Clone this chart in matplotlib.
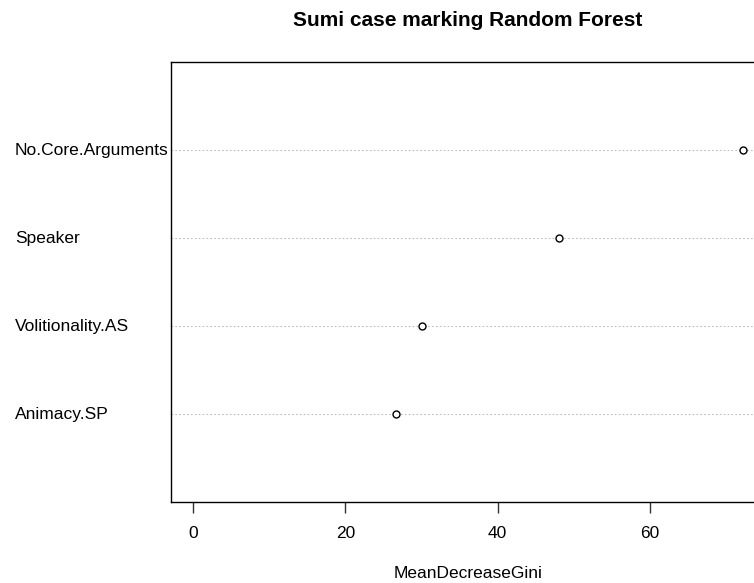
import matplotlib
matplotlib.use("Agg")
import matplotlib.pyplot as plt

plt.rcParams['font.family'] = ['Liberation Sans', 'DejaVu Sans']

# Variable importance (mean decrease in Gini), bottom to top
variables = ["Animacy.SP", "Volitionality.AS", "Speaker", "No.Core.Arguments"]
gini = [26.6, 30.0, 48.1, 72.2]
ticks = [0, 20, 40, 60]

fig = plt.figure(figsize=(7.54, 5.83), dpi=100)
ax = fig.add_axes([171 / 754, 81 / 583, 594 / 754, 440 / 583])

ypos = list(range(1, len(variables) + 1))
for y in ypos:
    ax.axhline(y, color="#bebebe", linestyle=(0, (1.5, 2)), linewidth=0.8, zorder=1)
ax.plot(gini, ypos, linestyle="none", marker="o", markersize=5,
        markerfacecolor="white", markeredgecolor="black", markeredgewidth=1.0, zorder=3)

pad = 0.04 * (max(gini) - 0)
ax.set_xlim(0 - pad, max(gini) + pad)
ax.set_ylim(0, len(variables) + 1)

ax.set_yticks([])
ax.set_xticks(ticks)
ax.set_xticklabels([str(t) for t in ticks], fontsize=12.5)
ax.tick_params(axis="x", length=8, width=1, pad=9, color="#333333")

for sp in ax.spines.values():
    sp.set_linewidth(1.0)
    sp.set_color("black")

# Row labels, left-aligned at the figure margin
for y, name in zip(ypos, variables):
    ax.annotate(name, xy=(15 / 754, y), xycoords=("figure fraction", "data"),
                ha="left", va="center", fontsize=12.5, annotation_clip=False)

fig.text(468 / 754, 1 - 20 / 583, "Sumi case marking Random Forest",
         ha="center", va="center", fontsize=15, fontweight="bold")
fig.text(468 / 754, 1 - 574 / 583, "MeanDecreaseGini",
         ha="center", va="center", fontsize=12.5)

fig.savefig("out.png", dpi=100)
